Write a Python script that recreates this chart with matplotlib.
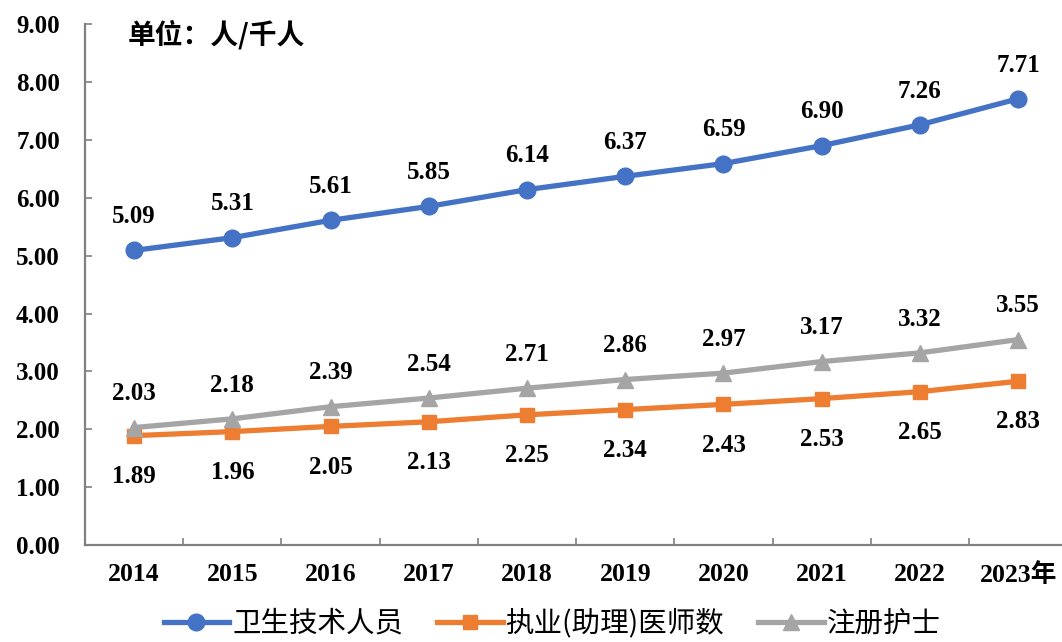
import matplotlib
matplotlib.use('Agg')
import numpy as np
from matplotlib import pyplot as plt

# === Données ===
years = ['2014', '2015', '2016', '2017', '2018', '2019', '2020', '2021', '2022', '2023年']
tech_staff = [5.09, 5.31, 5.61, 5.85, 6.14, 6.37, 6.59, 6.90, 7.26, 7.71]
doctors = [1.89, 1.96, 2.05, 2.13, 2.25, 2.34, 2.43, 2.53, 2.65, 2.83]
nurses = [2.03, 2.18, 2.39, 2.54, 2.71, 2.86, 2.97, 3.17, 3.32, 3.55]
y_ticks = [0, 1, 2, 3, 4, 5, 6, 7, 8, 9]

serif = ['Liberation Serif', 'Noto Sans CJK SC']
cjk = ['Noto Sans CJK SC', 'DejaVu Sans']

fig = plt.figure(figsize=(10.62, 6.42), dpi=100, facecolor='white')
ax = fig.add_axes([0.080, 0.151, 0.925, 0.8115])

x = np.arange(len(years))
ax.plot(x, tech_staff, color='#4472C4', lw=3.8, marker='o', ms=12, label='卫生技术人员')
ax.plot(x, doctors, color='#ED7D31', lw=3.8, marker='s', ms=10, label='执业(助理)医师数')
ax.plot(x, nurses, color='#A5A5A5', lw=3.8, marker='^', ms=11, label='注册护士')

# Étiquettes de valeurs
lab = dict(fontsize=18, fontweight='bold', family=serif, ha='center')
for i in x:
    ax.annotate(f'{tech_staff[i]:.2f}', (i, tech_staff[i]), xytext=(0, 16),
                textcoords='offset points', va='bottom', **lab)
    ax.annotate(f'{nurses[i]:.2f}', (i, nurses[i]), xytext=(0, 16),
                textcoords='offset points', va='bottom', **lab)
    ax.annotate(f'{doctors[i]:.2f}', (i, doctors[i]), xytext=(0, -21),
                textcoords='offset points', va='top', **lab)

ax.set_xlim(-0.5, len(years) - 0.5)
ax.set_ylim(0, 9)
ax.set_yticks(y_ticks)
ax.set_yticklabels([f'{v:.2f}' for v in y_ticks], fontsize=18, fontweight='bold', family=serif)
ax.set_xticks(x)
ax.set_xticklabels(years, fontsize=18.5, fontweight='bold', family=serif)
ax.set_xticks(np.arange(0.5, len(years) - 0.5, 1), minor=True)
ax.tick_params(axis='x', which='major', length=0, pad=13)
ax.tick_params(axis='x', which='minor', length=5, direction='in', color='#808080', width=1.2)
ax.tick_params(axis='y', length=5, direction='in', color='#808080', width=1.2, pad=18)

for s in ['top', 'right']:
    ax.spines[s].set_visible(False)
for s in ['left', 'bottom']:
    ax.spines[s].set_color('#808080')
    ax.spines[s].set_linewidth(1.6)

ax.text(0.044, 0.979, '单位：人/千人', transform=ax.transAxes, fontsize=20, fontweight='bold',
        family=cjk, ha='left', va='center')

fig.legend(loc='lower center', bbox_to_anchor=(0.52, -0.035), ncol=3, frameon=False,
           prop={'family': cjk, 'size': 20.5}, handlelength=2.3, columnspacing=1.2,
           handletextpad=0.1)

fig.savefig('out.png', dpi=100, facecolor='white')
